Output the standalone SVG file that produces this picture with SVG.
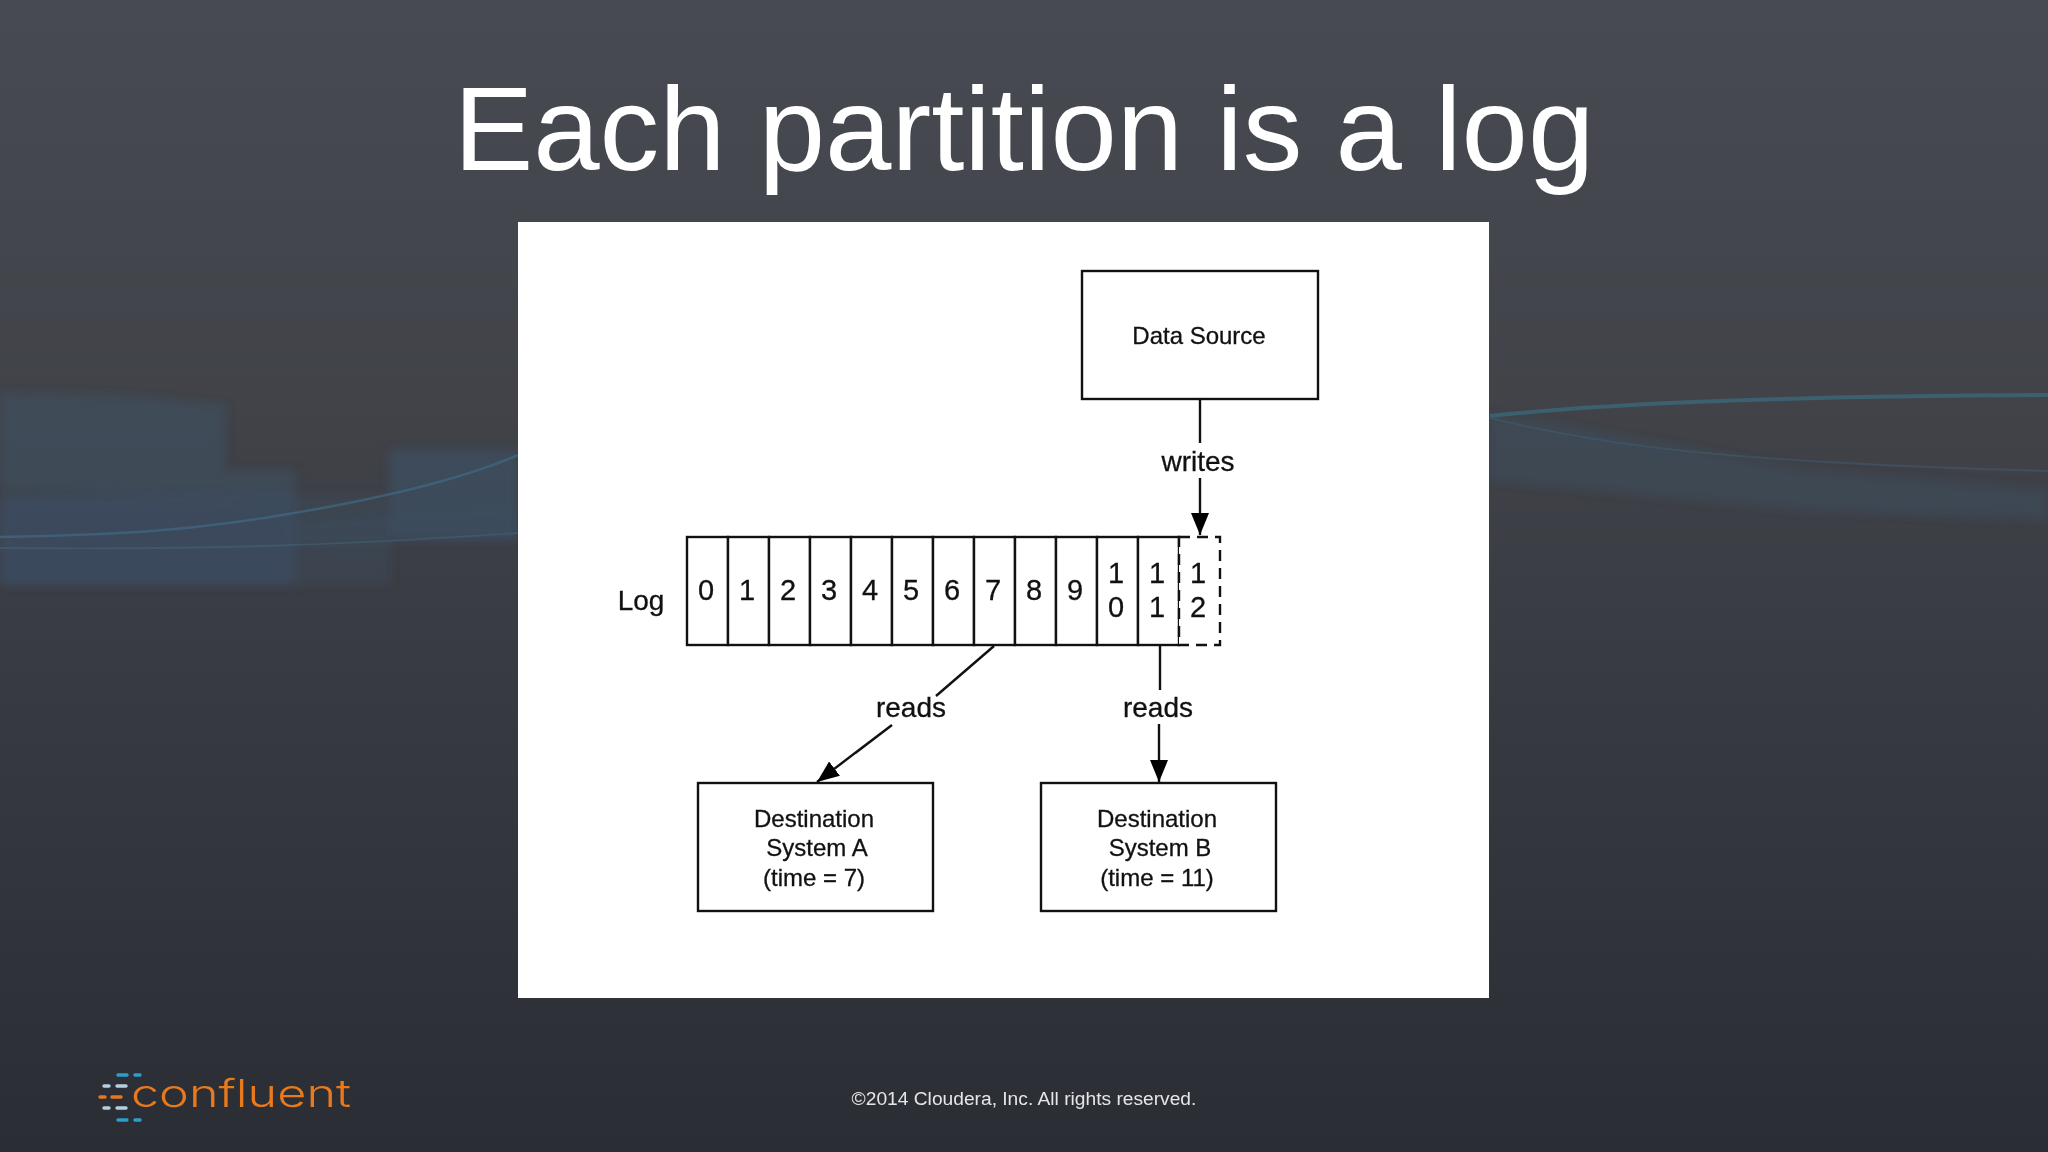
<svg xmlns="http://www.w3.org/2000/svg" width="2048" height="1152" viewBox="0 0 2048 1152">
<defs>
<linearGradient id="bg" x1="0" y1="0" x2="0" y2="1"><stop offset="0" stop-color="#474a52"/><stop offset="0.35" stop-color="#414349"/><stop offset="0.6" stop-color="#383a42"/><stop offset="1" stop-color="#2b2d35"/></linearGradient>
<filter id="b3" x="-5%" y="-20%" width="110%" height="140%"><feGaussianBlur stdDeviation="5"/></filter>
<filter id="b1"><feGaussianBlur stdDeviation="0.7"/></filter>
<marker id="arr" markerUnits="userSpaceOnUse" markerWidth="24" markerHeight="20" refX="22" refY="9" orient="auto"><path d="M0 0L22 9L0 18Z" fill="#000"/></marker>
</defs>
<style>
.d{font-family:"Liberation Sans",Arial,sans-serif;fill:#111;stroke:#111;stroke-width:.3}
.t{font-size:24px;text-anchor:middle}
.n{font-size:29px;text-anchor:middle}
.l{font-size:28px;text-anchor:middle}
.box{fill:#fff;stroke:#111;stroke-width:2.4}
.c{stroke:#111;stroke-width:2.4;fill:none}
</style>
<rect width="2048" height="1152" fill="url(#bg)"/>
<g id="background-waves">
<g filter="url(#b3)">
<path d="M0 393L120 396L225 405L225 470L295 470L295 500L0 490Z" fill="#3c5366" opacity=".5"/>
<path d="M0 495L295 495L295 585L0 585Z" fill="#3c4f66" opacity=".7"/>
<path d="M295 495L390 495L390 585L295 585Z" fill="#3c4f62" opacity=".35"/>
<path d="M390 450L518 450L518 540L390 540Z" fill="#3a5368" opacity=".6"/>
<path d="M295 520L518 505L518 540L390 540L390 545L295 545Z" fill="#3a5064" opacity=".3"/>
<path d="M1490 415L1560 425L1800 470L2048 490L2048 520L1800 510L1490 480Z" fill="#3b5060" opacity=".5"/>
</g>
<path d="M0 537C120 535 200 530 300 512C380 498 460 480 518 455" fill="none" stroke="#3f6a84" stroke-width="2.5" opacity=".7" filter="url(#b1)"/>
<path d="M0 548C200 550 350 545 518 533" fill="none" stroke="#44667e" stroke-width="1.8" opacity=".5" filter="url(#b1)"/>
<path d="M1490 416C1620 402 1800 396 2048 395" fill="none" stroke="#3a6a7c" stroke-width="4" opacity=".75" filter="url(#b1)"/>
<path d="M1490 418C1600 445 1720 462 2048 471" fill="none" stroke="#3f5a6c" stroke-width="2" opacity=".6" filter="url(#b1)"/>
</g>
<text x="1024" y="170" font-family="Liberation Sans,Arial,sans-serif" font-size="119.3" fill="#fff" text-anchor="middle">Each partition is a log</text>
<rect id="panel" x="518" y="222" width="971" height="776" fill="#fff"/>
<g id="data-source"><rect class="box" x="1082" y="271" width="236" height="128"/><text class="d t" x="1199" y="344">Data Source</text></g>
<g id="log">
<text class="d l" x="641" y="610">Log</text>
<g id="log-cells" fill="#fff" stroke="#111" stroke-width="2.4">
<rect x="687" y="537" width="41" height="108"/><rect x="728" y="537" width="41" height="108"/><rect x="769" y="537" width="41" height="108"/><rect x="810" y="537" width="41" height="108"/><rect x="851" y="537" width="41" height="108"/><rect x="892" y="537" width="41" height="108"/><rect x="933" y="537" width="41" height="108"/><rect x="974" y="537" width="41" height="108"/><rect x="1015" y="537" width="41" height="108"/><rect x="1056" y="537" width="41" height="108"/><rect x="1097" y="537" width="41" height="108"/><rect x="1138" y="537" width="41" height="108"/>
</g>
<path id="next-cell" d="M1179 537H1220V645H1179Z" fill="#fff" stroke="#111" stroke-width="2.4" stroke-dasharray="11 7"/>
<text class="d n" x="706" y="600">0</text><text class="d n" x="747" y="600">1</text><text class="d n" x="788" y="600">2</text><text class="d n" x="829" y="600">3</text><text class="d n" x="870" y="600">4</text><text class="d n" x="911" y="600">5</text><text class="d n" x="952" y="600">6</text><text class="d n" x="993" y="600">7</text><text class="d n" x="1034" y="600">8</text><text class="d n" x="1075" y="600">9</text>
<text class="d n" x="1116" y="583">1</text><text class="d n" x="1116" y="617">0</text><text class="d n" x="1157" y="583">1</text><text class="d n" x="1157" y="617">1</text><text class="d n" x="1198" y="583">1</text><text class="d n" x="1198" y="617">2</text>
</g>
<g id="destination-a"><rect class="box" x="698" y="783" width="235" height="128"/><text class="d t" x="814" y="827">Destination</text><text class="d t" x="817" y="856">System A</text><text class="d t" x="814" y="886">(time = 7)</text></g>
<g id="destination-b"><rect class="box" x="1041" y="783" width="235" height="128"/><text class="d t" x="1157" y="827">Destination</text><text class="d t" x="1160" y="856">System B</text><text class="d t" x="1157" y="886">(time = 11)</text></g>
<g id="connectors">
<path class="c" d="M1200 399V443"/>
<path class="c" d="M1200 478V535" marker-end="url(#arr)"/>
<path class="c" d="M994 646L936 696"/>
<path class="c" d="M892 725L817 782" marker-end="url(#arr)"/>
<path class="c" d="M1160 646V690"/>
<path class="c" d="M1159 724V782" marker-end="url(#arr)"/>
<text class="d l" x="1198" y="471">writes</text>
<text class="d l" x="911" y="717">reads</text>
<text class="d l" x="1158" y="717">reads</text>
</g>
<g id="logo">
<g stroke-width="3.4" stroke-linecap="round">
<path d="M118 1075H127M135 1075H140" stroke="#2a9fc9"/>
<path d="M104 1086H109M117 1086H126" stroke="#b6cfe0"/>
<path d="M100 1097H105M112 1097H121" stroke="#e8761a"/>
<path d="M104 1108H109M117 1108H126" stroke="#b6cfe0"/>
<path d="M118 1120H127M135 1120H140" stroke="#2a9fc9"/>
</g>
<text x="131" y="1107" font-family="Inter,sans-serif" font-weight="300" font-size="38" fill="#e87a1c" textLength="220" lengthAdjust="spacingAndGlyphs">confluent</text>
</g>
<text x="1024" y="1105" font-family="Liberation Sans,Arial,sans-serif" font-size="19.2" fill="#e6e6e8" text-anchor="middle">©2014 Cloudera, Inc. All rights reserved.</text>
</svg>
